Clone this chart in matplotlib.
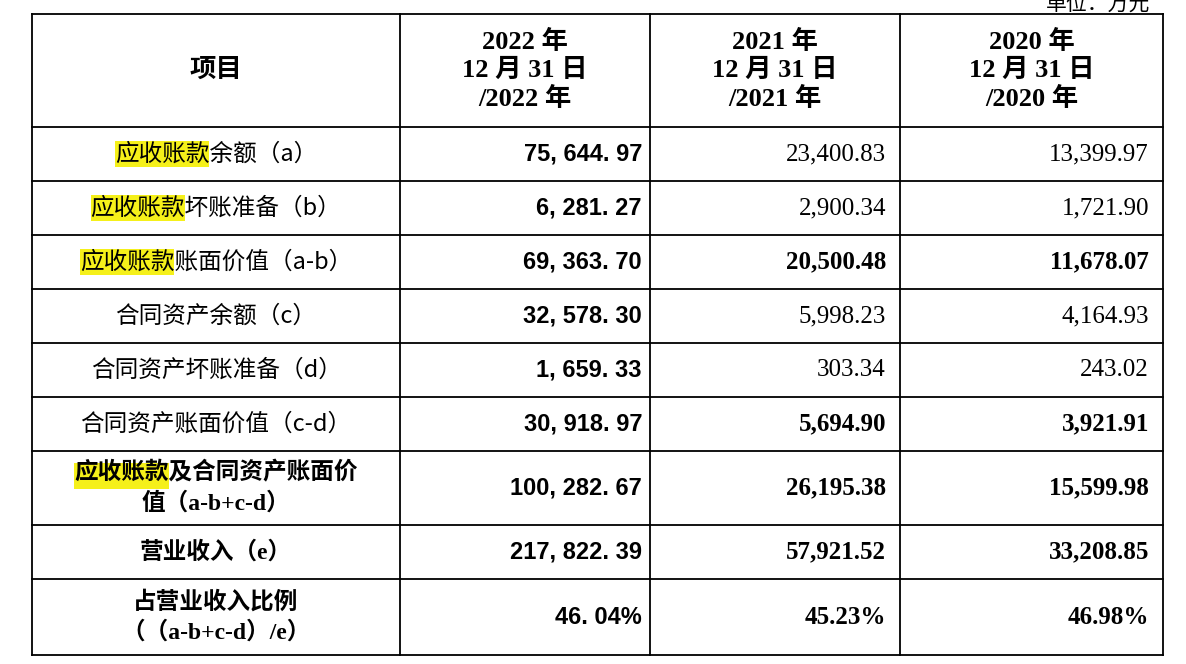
import matplotlib
matplotlib.use("Agg")
import matplotlib.pyplot as plt
from matplotlib.patches import Rectangle

plt.rcParams['font.family'] = ['Liberation Serif', 'Noto Sans CJK SC', 'DejaVu Sans']

headers = ["项目", "2022 年\n12 月 31 日\n/2022 年", "2021 年\n12 月 31 日\n/2021 年", "2020 年\n12 月 31 日\n/2020 年"]
items = ["应收账款余额（a）", "应收账款坏账准备（b）", "应收账款账面价值（a-b）",
         "合同资产余额（c）", "合同资产坏账准备（d）", "合同资产账面价值（c-d）",
         "应收账款及合同资产账面价\n值（a-b+c-d）", "营业收入（e）", "占营业收入比例\n（（a-b+c-d）/e）"]
v2022 = ["75, 644. 97", "6, 281. 27", "69, 363. 70", "32, 578. 30", "1, 659. 33",
         "30, 918. 97", "100, 282. 67", "217, 822. 39", "46. 04%"]
v2021 = ["23,400.83", "2,900.34", "20,500.48", "5,998.23", "303.34", "5,694.90",
         "26,195.38", "57,921.52", "45.23%"]
v2020 = ["13,399.97", "1,721.90", "11,678.07", "4,164.93", "243.02", "3,921.91",
         "15,599.98", "33,208.85", "46.98%"]
bold_rows = [False, False, True, False, False, True, True, True, True]
item_bold = [False, False, False, False, False, False, True, True, True]
highlight = [True, True, True, False, False, False, True, False, False]

fig = plt.figure(figsize=(11.86, 6.64), dpi=100)
ax = fig.add_axes([0, 0, 1, 1])
ax.set_xlim(0, 1186); ax.set_ylim(664, 0); ax.axis('off')

xs = [32, 400, 650, 900, 1163]
ys = [14, 127, 181, 235, 289, 343, 397, 451, 525, 579, 655]
for x in xs:
    ax.plot([x, x], [ys[0], ys[-1]], color='black', lw=1.3)
for y in ys:
    ax.plot([xs[0], xs[-1]], [y, y], color='black', lw=1.3)

ax.text(1150, 4, "单位：万元", ha='right', va='center', fontsize=15, family=['Noto Sans CJK SC'])

for j, h in enumerate(headers):
    ax.text((xs[j] + xs[j+1]) / 2, (ys[0] + ys[1]) / 2, h, ha='center', va='center',
            fontsize=19, fontweight='bold', linespacing=1.25)

fig.canvas.draw()
r = fig.canvas.get_renderer()
inv = ax.transData.inverted()
for i in range(len(items)):
    yc = (ys[i+1] + ys[i+2]) / 2
    t = ax.text((xs[0] + xs[1]) / 2, yc, items[i], ha='center', va='center', fontsize=17,
                fontweight='bold' if item_bold[i] else 'normal', linespacing=1.4, zorder=3,
                family=['Noto Sans CJK SC', 'DejaVu Sans'] if not item_bold[i] else ['Liberation Serif', 'Noto Sans CJK SC'])
    if highlight[i]:
        bb = t.get_window_extent(r)
        x0 = inv.transform((bb.x0, 0))[0]
        ytop = inv.transform((0, bb.y1))[1]
        w = 4 * 17 * 100 / 72
        yy = yc if '\n' not in items[i] else ytop + 14
        ax.add_patch(Rectangle((x0, yy - 13), w, 26, facecolor='#f5f01a', edgecolor='none', zorder=2))
    ax.text(xs[2] - 8, yc, v2022[i], ha='right', va='center', fontsize=17, fontweight='bold',
            family=['Liberation Sans Narrow', 'Liberation Sans'])
    for j, vals in ((3, v2021), (4, v2020)):
        ax.text(xs[j] - 14, yc, vals[i], ha='right', va='center', fontsize=18,
                fontweight='bold' if bold_rows[i] else 'normal')

fig.savefig("out.png", dpi=100)
